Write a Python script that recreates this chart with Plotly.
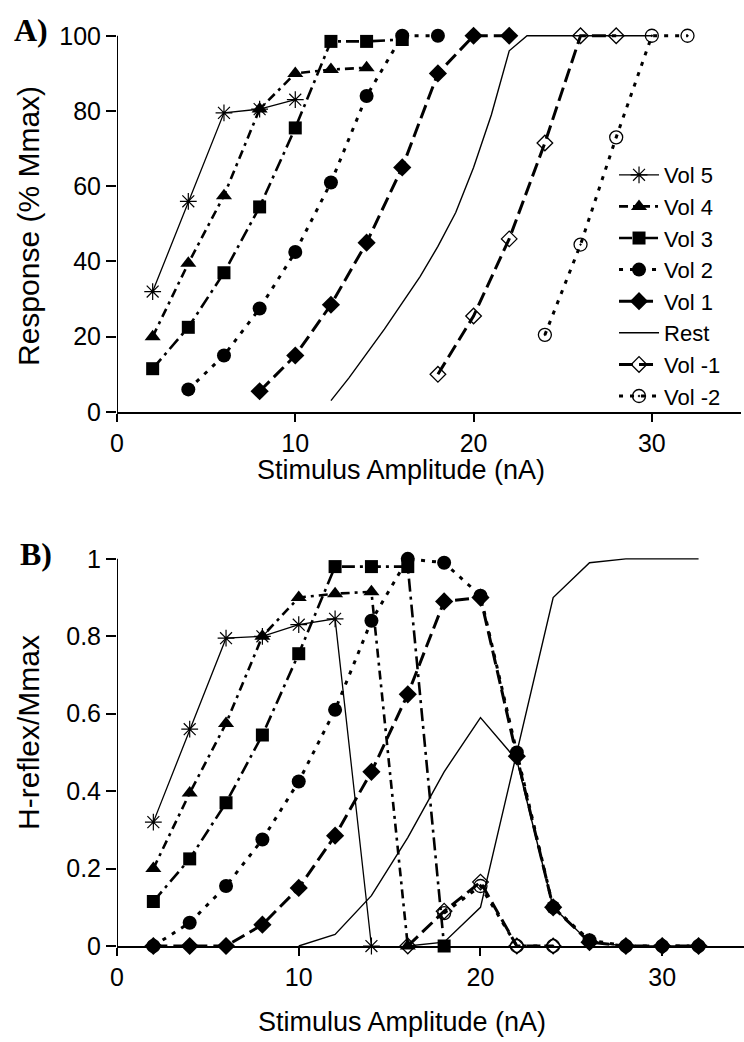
import plotly.graph_objects as go

# ---------------- Panel A data (Response, % Mmax) ----------------
a_vol5_x = [2, 4, 6, 8, 10]
a_vol5_y = [32, 56, 79.5, 80.5, 83]
a_vol4_x = [2, 4, 6, 8, 10, 12, 14]
a_vol4_y = [20, 39.5, 57.5, 80.5, 90, 91, 91.5]
a_vol3_x = [2, 4, 6, 8, 10, 12, 14, 16]
a_vol3_y = [11.5, 22.5, 37, 54.5, 75.5, 98.5, 98.5, 99]
a_vol2_x = [4, 6, 8, 10, 12, 14, 16, 18]
a_vol2_y = [6, 15, 27.5, 42.5, 61, 84, 100, 100]
a_vol1_x = [8, 10, 12, 14, 16, 18, 20, 22]
a_vol1_y = [5.5, 15, 28.5, 45, 65, 90, 100, 100]
a_rest_x = [12, 13, 14, 15, 16, 17, 18, 19, 20, 21, 22, 23, 30]
a_rest_y = [3, 9, 15.5, 22, 29, 36, 44, 53, 65, 79, 96, 100, 100]
a_volm1_x = [18, 20, 22, 24, 26, 28]
a_volm1_y = [10, 25.5, 46, 71.5, 100, 100]
a_volm2_x = [24, 26, 28, 30, 32]
a_volm2_y = [20.5, 44.5, 73, 100, 100]

# ---------------- Panel B data (H-reflex / Mmax) ----------------
b_vol5_x = [2, 4, 6, 8, 10, 12, 14]
b_vol5_y = [0.32, 0.56, 0.795, 0.80, 0.83, 0.845, 0]
b_vol4_x = [2, 4, 6, 8, 10, 12, 14, 16]
b_vol4_y = [0.20, 0.395, 0.575, 0.80, 0.90, 0.91, 0.915, 0]
b_vol3_x = [2, 4, 6, 8, 10, 12, 14, 16, 18]
b_vol3_y = [0.115, 0.225, 0.37, 0.545, 0.755, 0.98, 0.98, 0.98, 0]
b_vol2_x = [2, 4, 6, 8, 10, 12, 14, 16, 18, 20, 22, 24, 26, 28, 30, 32]
b_vol2_y = [0, 0.06, 0.155, 0.275, 0.425, 0.61, 0.84, 1.0, 0.99, 0.905, 0.5, 0.1, 0.015, 0, 0, 0]
b_vol1_x = [2, 4, 6, 8, 10, 12, 14, 16, 18, 20, 22, 24, 26, 28, 30, 32]
b_vol1_y = [0, 0, 0, 0.055, 0.15, 0.285, 0.45, 0.65, 0.89, 0.90, 0.49, 0.1, 0.01, 0, 0, 0]
b_rest_h_x = [10, 12, 14, 16, 18, 20, 22, 24, 26, 28, 30, 32]
b_rest_h_y = [0, 0.03, 0.13, 0.28, 0.45, 0.59, 0.48, 0.1, 0.01, 0, 0, 0]
b_rest_m_x = [16, 18, 20, 22, 24, 26, 28, 30, 32]
b_rest_m_y = [0, 0.01, 0.10, 0.50, 0.90, 0.99, 1.0, 1.0, 1.0]
b_volm1_x = [16, 18, 20, 22, 24]
b_volm1_y = [0, 0.09, 0.165, 0, 0]
b_volm2_x = [18, 20, 22, 24]
b_volm2_y = [0.085, 0.155, 0, 0]

x_ticks = [0, 10, 20, 30]
a_y_ticks = [0, 20, 40, 60, 80, 100]
b_y_ticks = [0, 0.2, 0.4, 0.6, 0.8, 1]
b_y_ticktext = ["0", "0.2", "0.4", "0.6", "0.8", "1"]

FONT = "Liberation Sans, Arial, sans-serif"
BLACK = "black"

styles = {
    "Vol 5": dict(dash="solid", width=1.3, symbol="asterisk-open", size=14, mline=1.2),
    "Vol 4": dict(dash="9px,5px,3px,5px", width=2.6, symbol="triangle-up", size=14, mline=0),
    "Vol 3": dict(dash="13px,5px,3px,5px", width=2.6, symbol="square", size=13, mline=0),
    "Vol 2": dict(dash="4px,7px", width=3, symbol="circle", size=14, mline=0),
    "Vol 1": dict(dash="14px,6px", width=3, symbol="diamond", size=14, mline=0),
    "Rest": dict(dash="solid", width=1.4, symbol=None, size=0, mline=0),
    "Vol -1": dict(dash="14px,6px", width=3, symbol="diamond-open", size=12, mline=1.3),
    "Vol -2": dict(dash="4px,7px", width=3, symbol="circle-open-dot", size=13, mline=1.3),
}

fig = go.Figure()


def add(name, xs, ys, xa, ya, legend):
    s = styles[name]
    if s["symbol"] is None:
        mode = "lines"
        marker = None
    else:
        mode = "lines+markers"
        marker = dict(symbol=s["symbol"], size=s["size"], color=BLACK,
                      line=dict(color=BLACK, width=s["mline"]))
    fig.add_trace(go.Scatter(
        x=xs, y=ys, name=name, mode=mode, xaxis=xa, yaxis=ya,
        line=dict(color=BLACK, width=s["width"], dash=s["dash"]),
        marker=marker, showlegend=legend, cliponaxis=False,
    ))


add("Vol 5", a_vol5_x, a_vol5_y, "x", "y", True)
add("Vol 4", a_vol4_x, a_vol4_y, "x", "y", True)
add("Vol 3", a_vol3_x, a_vol3_y, "x", "y", True)
add("Vol 2", a_vol2_x, a_vol2_y, "x", "y", True)
add("Vol 1", a_vol1_x, a_vol1_y, "x", "y", True)
add("Rest", a_rest_x, a_rest_y, "x", "y", True)
add("Vol -1", a_volm1_x, a_volm1_y, "x", "y", True)
add("Vol -2", a_volm2_x, a_volm2_y, "x", "y", True)

add("Vol 5", b_vol5_x, b_vol5_y, "x2", "y2", False)
add("Vol 4", b_vol4_x, b_vol4_y, "x2", "y2", False)
add("Vol 3", b_vol3_x, b_vol3_y, "x2", "y2", False)
add("Rest", b_rest_h_x, b_rest_h_y, "x2", "y2", False)
add("Rest", b_rest_m_x, b_rest_m_y, "x2", "y2", False)
add("Vol -2", b_volm2_x, b_volm2_y, "x2", "y2", False)
add("Vol -1", b_volm1_x, b_volm1_y, "x2", "y2", False)
add("Vol 1", b_vol1_x, b_vol1_y, "x2", "y2", False)
add("Vol 2", b_vol2_x, b_vol2_y, "x2", "y2", False)

ax_common = dict(showgrid=False, zeroline=False, ticks="outside", tickcolor=BLACK,
                 tickfont=dict(family=FONT, size=25, color=BLACK), linecolor=BLACK,
                 linewidth=2, tickwidth=2)

fig.update_layout(
    width=744, height=1042, autosize=False,
    margin=dict(l=117, r=0, t=32, b=96),
    paper_bgcolor="white", plot_bgcolor="white",
    font=dict(family=FONT, color=BLACK),
    xaxis=dict(domain=[0, 0.9952], range=[0, 35], anchor="y", tickvals=x_ticks,
               showline=True, ticklen=8, **ax_common),
    yaxis=dict(domain=[0.5843, 1], range=[0, 101], anchor="x", tickvals=a_y_ticks,
               showline=False, ticklen=10, **ax_common),
    xaxis2=dict(domain=[0, 1], range=[0, 34.5], anchor="y2", tickvals=x_ticks,
                showline=True, ticklen=8, **ax_common),
    yaxis2=dict(domain=[0, 0.4278], range=[0, 1.01], anchor="x2", tickvals=b_y_ticks,
                ticktext=b_y_ticktext, showline=False, ticklen=10, **ax_common),
    legend=dict(x=0.7927, y=0.8665, xanchor="left", yanchor="top",
                font=dict(family=FONT, size=22, color=BLACK),
                bgcolor="rgba(0,0,0,0)", tracegroupgap=4, itemwidth=40),
    shapes=[
        dict(type="line", xref="x", yref="y", x0=0, x1=0, y0=0, y1=100,
             line=dict(color=BLACK, width=2)),
        dict(type="line", xref="x2", yref="y2", x0=0, x1=0, y0=0, y1=1,
             line=dict(color=BLACK, width=2)),
    ],
    annotations=[
        dict(text="Stimulus Amplitude (nA)", xref="paper", yref="paper", x=0.453, y=0.5208,
             showarrow=False, xanchor="center", yanchor="middle",
             font=dict(family=FONT, size=27, color=BLACK)),
        dict(text="Stimulus Amplitude (nA)", xref="paper", yref="paper", x=0.455, y=-0.0832,
             showarrow=False, xanchor="center", yanchor="middle",
             font=dict(family=FONT, size=27, color=BLACK)),
        dict(text="Response (% Mmax)", xref="paper", yref="paper", x=-0.1420, y=0.7877,
             showarrow=False, textangle=-90, xanchor="center", yanchor="middle",
             font=dict(family=FONT, size=30, color=BLACK)),
        dict(text="H-reflex/Mmax", xref="paper", yref="paper", x=-0.1420, y=0.2341,
             showarrow=False, textangle=-90, xanchor="center", yanchor="middle",
             font=dict(family=FONT, size=30, color=BLACK)),
        dict(text="<b>A)</b>", xref="paper", yref="paper", x=-0.137, y=1.002,
             showarrow=False, xanchor="center", yanchor="middle",
             font=dict(family="Liberation Serif, Times New Roman, serif", size=32, color=BLACK)),
        dict(text="<b>B)</b>", xref="paper", yref="paper", x=-0.129, y=0.4289,
             showarrow=False, xanchor="center", yanchor="middle",
             font=dict(family="Liberation Serif, Times New Roman, serif", size=32, color=BLACK)),
    ],
)

fig.write_html("out.html", config={"displayModeBar": False})
with open("out.html", "r", encoding="utf-8") as f:
    html = f.read()
html = html.replace("<body>", '<body style="margin:0;padding:0;">', 1)
with open("out.html", "w", encoding="utf-8") as f:
    f.write(html)
